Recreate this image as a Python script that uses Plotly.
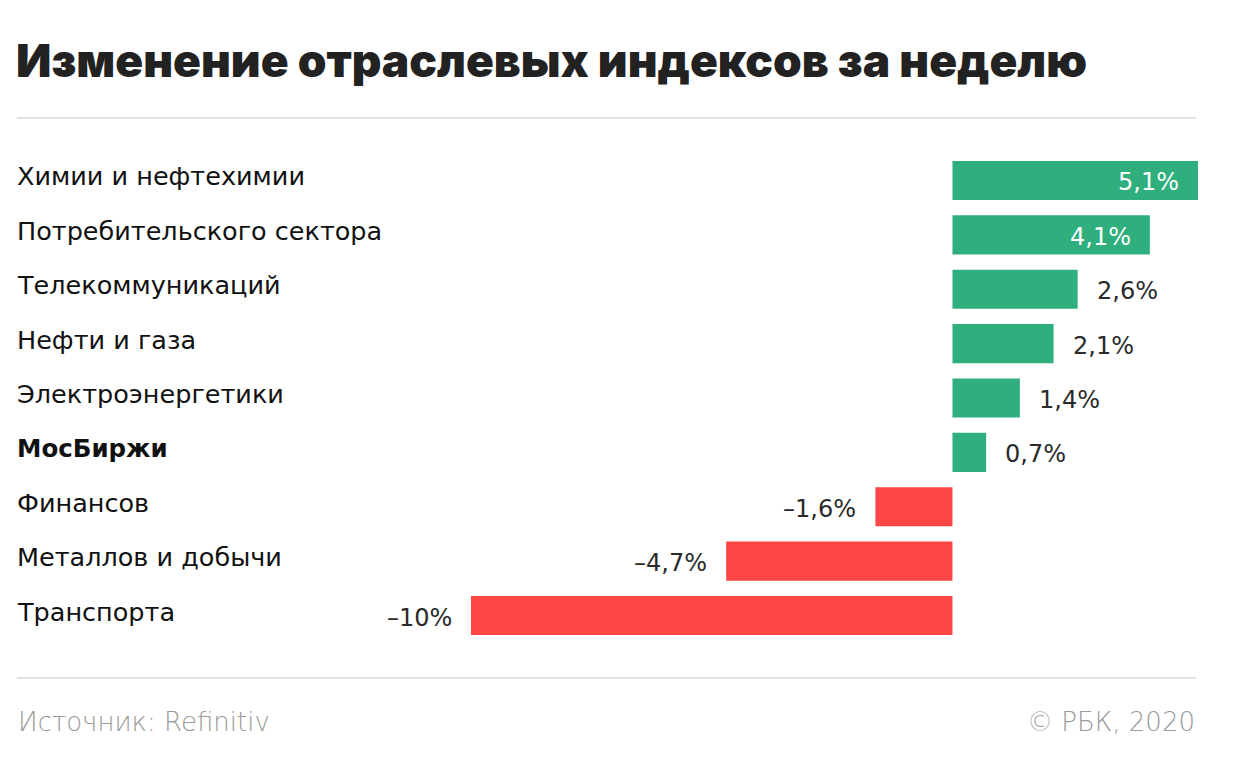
import plotly.graph_objects as go

W, H = 1241, 775
OFF = 8  # page body margin offset

categories = ["Химии и нефтехимии", "Потребительского сектора", "Телекоммуникаций",
              "Нефти и газа", "Электроэнергетики", "МосБиржи", "Финансов",
              "Металлов и добычи", "Транспорта"]
values = [5.1, 4.1, 2.6, 2.1, 1.4, 0.7, -1.6, -4.7, -10.0]
highlight = ["МосБиржи"]

title = "Изменение отраслевых индексов за неделю"
source = "Источник: Refinitiv"
copyright_txt = "© РБК, 2020"

GREEN = "#2eaf7d"
RED = "#ff4646"
TFONT = "Inter"
FONT = "DejaVu Sans"


def fmt(v):
    s = f"{abs(v):g}".replace(".", ",") + "%"
    return ("–" + s) if v < 0 else s


def px(x):
    return (x - OFF) / W


def py(y):
    return 1 - (y - OFF) / H


colors = [GREEN if v >= 0 else RED for v in values]

fig = go.Figure(go.Bar(
    x=values, y=categories, orientation="h",
    marker=dict(color=colors, line=dict(width=0)),
    width=0.72, hoverinfo="skip",
))

fig.update_layout(
    width=W, height=H,
    margin=dict(l=0, r=0, t=0, b=0),
    paper_bgcolor="white", plot_bgcolor="white",
    showlegend=False,
    xaxis=dict(domain=[px(471), px(1198)], range=[min(values), max(values)],
               visible=False, fixedrange=True),
    yaxis=dict(domain=[py(642.7), py(153.3)], autorange="reversed",
               visible=False, fixedrange=True,
               categoryorder="array", categoryarray=categories),
    font=dict(family=FONT, color="#222222"),
)

annotations = []
# title
annotations.append(dict(text=title, xref="paper", yref="paper", x=px(14), y=py(60),
                        xanchor="left", yanchor="middle", showarrow=False,
                        font=dict(family=TFONT, size=46, color="#222222", weight=900)))
# category labels
for c in categories:
    bold = c in highlight
    annotations.append(dict(text=c, xref="paper", yref="y", x=px(15), y=c,
                            xanchor="left", yanchor="middle", yshift=4, showarrow=False,
                            font=dict(family=FONT, size=25.5 if not bold else 24.5,
                                      color="#111111", weight=700 if bold else 400)))
# value labels
for c, v in zip(categories, values):
    inside = v > 3
    if v >= 0:
        if inside:
            anchor, shift, col = "right", -17, "white"
        else:
            anchor, shift, col = "left", 17, "#2a2a2a"
    else:
        anchor, shift, col = "right", -17, "#2a2a2a"
    annotations.append(dict(text=fmt(v), xref="x", yref="y", x=v, y=c,
                            xanchor=anchor, yanchor="middle", xshift=shift, yshift=-2,
                            showarrow=False,
                            font=dict(family=FONT, size=24, color=col, weight=400)))
# footer
annotations.append(dict(text=source, xref="paper", yref="paper", x=px(16), y=py(722),
                        xanchor="left", yanchor="middle", showarrow=False,
                        font=dict(family=FONT, size=26, color="#9a9a9a", weight=300)))
annotations.append(dict(text=copyright_txt, xref="paper", yref="paper", x=px(1197), y=py(722),
                        xanchor="right", yanchor="middle", showarrow=False,
                        font=dict(family=FONT, size=26, color="#9a9a9a", weight=300)))
fig.update_layout(annotations=annotations)

shapes = []
for yy in (118, 678):
    shapes.append(dict(type="line", xref="paper", yref="paper",
                       x0=px(17), x1=px(1196), y0=py(yy), y1=py(yy),
                       line=dict(color="#e2e2e2", width=2)))
fig.update_layout(shapes=shapes)

fig.write_html("out.html")
